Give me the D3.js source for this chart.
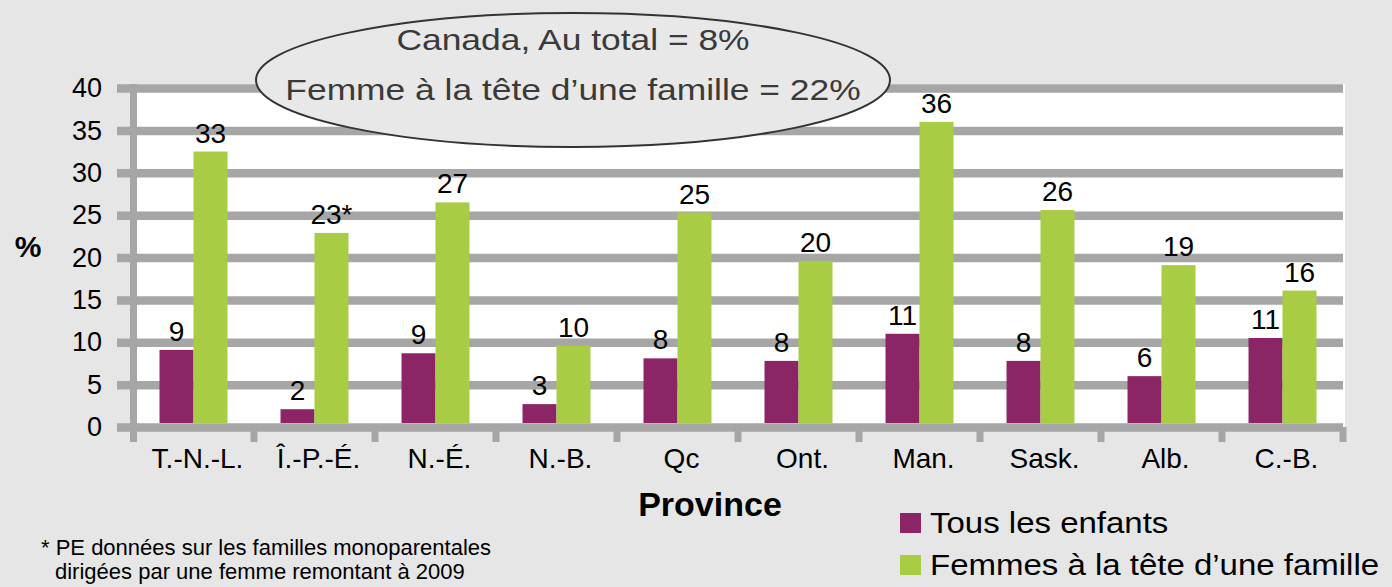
<!DOCTYPE html>
<html>
<head>
<meta charset="utf-8">
<script src="https://cdn.jsdelivr.net/npm/d3@7"></script>
<style>
  body { margin: 0; background: #e6e6e6; }
  svg { display: block; font-family: "Liberation Sans", Arial, Helvetica, sans-serif; }
</style>
</head>
<body>
<div id="container"></div>
<script>
/* CONSTANTS AND GLOBALS */
const width = 1392,
      height = 587,
      margin = {top: 88, bottom: 160, left: 137, right: 49};

// data
const provinces = ["T.-N.-L.", "Î.-P.-É.", "N.-É.", "N.-B.", "Qc", "Ont.", "Man.", "Sask.", "Alb.", "C.-B."];
const series = ["Tous les enfants", "Femmes à la tête d’une famille"];
const allChildren = [9.1, 2.1, 8.7, 2.7, 8.1, 7.8, 11.0, 7.8, 6.0, 10.5];
const femaleLed = [32.5, 22.9, 26.5, 9.6, 25.3, 19.6, 36.0, 25.6, 19.1, 16.1];
const labelsAll = ["9", "2", "9", "3", "8", "8", "11", "8", "6", "11"];
const labelsFemale = ["33", "23*", "27", "10", "25", "20", "36", "26", "19", "16"];
const yTicks = [0, 5, 10, 15, 20, 25, 30, 35, 40];
const calloutLines = ["Canada, Au total = 8%", "Femme à la tête d’une famille = 22%"];
const footnoteLines = ["* PE données sur les familles monoparentales", "dirigées par une femme remontant à 2009"];

const colors = ["#8c2566", "#a8cd45"];
const gridColor = "#a6a6a6";

const data = provinces.map((p, i) => ({
  province: p,
  values: [
    {key: series[0], value: allChildren[i], label: labelsAll[i]},
    {key: series[1], value: femaleLed[i], label: labelsFemale[i]}
  ]
}));

/* SCALES */
const xScale = d3.scaleBand()
  .domain(provinces)
  .range([margin.left - 4, width - margin.right])
  .padding(0);

const x1Scale = d3.scaleBand()
  .domain(series)
  .range([0, xScale.bandwidth()])
  .paddingInner(0)
  .paddingOuter(0.78);

const yScale = d3.scaleLinear()
  .domain([0, 40])
  .range([427, margin.top]);

const colorScale = d3.scaleOrdinal().domain(series).range(colors);

const svg = d3.select("#container")
  .append("svg")
  .attr("width", width)
  .attr("height", height);

// background + plot area
svg.append("rect").attr("width", width).attr("height", height).attr("fill", "#e6e6e6");
svg.append("rect")
  .attr("x", margin.left)
  .attr("y", yScale(40) - 4)
  .attr("width", width - margin.right + 2 - margin.left)
  .attr("height", yScale(0) - yScale(40) + 4)
  .attr("fill", "white");

// + Y AXIS with gridlines
const yAxis = d3.axisLeft(yScale)
  .tickValues(yTicks)
  .tickSizeInner(-(width - margin.right - margin.left + 20))
  .tickSizeOuter(0)
  .tickPadding(0);

const yAxisGroup = svg.append("g")
  .attr("class", "yAxis")
  .attr("transform", `translate(${margin.left - 20},0)`)
  .call(yAxis);

yAxisGroup.select(".domain").remove();
yAxisGroup.selectAll(".tick line")
  .attr("stroke", gridColor)
  .attr("stroke-width", 8.5);
yAxisGroup.selectAll(".tick text")
  .attr("x", -15)
  .attr("font-size", 27)
  .attr("fill", "black");

// vertical axis line
svg.append("line")
  .attr("x1", margin.left - 3.5).attr("x2", margin.left - 3.5)
  .attr("y1", yScale(40) - 4).attr("y2", yScale(0) + 15)
  .attr("stroke", gridColor)
  .attr("stroke-width", 7);

// + X AXIS: labels from axis, ticks on band edges
const xAxis = d3.axisBottom(xScale).tickSize(0).tickPadding(0);
const xAxisGroup = svg.append("g")
  .attr("class", "xAxis")
  .attr("transform", `translate(0,${yScale(0)})`)
  .call(xAxis);
xAxisGroup.select(".domain").remove();
xAxisGroup.selectAll(".tick text")
  .attr("y", 41)
  .attr("dy", 0)
  .attr("dx", 4)
  .attr("font-size", 28)
  .attr("fill", "black");

const edges = provinces.map(p => xScale(p)).concat([xScale.range()[1]]);
svg.append("g")
  .selectAll("line")
  .data(edges.slice(1))
  .join("line")
  .attr("x1", d => d).attr("x2", d => d)
  .attr("y1", yScale(0)).attr("y2", yScale(0) + 15)
  .attr("stroke", gridColor)
  .attr("stroke-width", 7);

// + BARS
const groups = svg.append("g")
  .selectAll("g")
  .data(data)
  .join("g")
  .attr("transform", d => `translate(${xScale(d.province)},0)`);

groups.selectAll("rect")
  .data(d => d.values)
  .join("rect")
  .attr("x", d => x1Scale(d.key))
  .attr("width", x1Scale.bandwidth())
  .attr("y", d => yScale(d.value))
  .attr("height", d => yScale(0) - 4 - yScale(d.value))
  .attr("fill", d => colorScale(d.key));

// data labels
groups.selectAll("text")
  .data(d => d.values)
  .join("text")
  .attr("x", d => x1Scale(d.key) + x1Scale.bandwidth() / 2)
  .attr("y", d => yScale(d.value) - 9)
  .attr("text-anchor", "middle")
  .attr("font-size", 28)
  .attr("fill", "black")
  .text(d => d.label);

// axis titles
svg.append("text")
  .attr("x", 28).attr("y", 257)
  .attr("text-anchor", "middle")
  .attr("font-weight", "bold")
  .attr("font-size", 30)
  .text("%");

svg.append("text")
  .attr("x", 710).attr("y", 516)
  .attr("text-anchor", "middle")
  .attr("font-weight", "bold")
  .attr("font-size", 34)
  .text("Province");

// callout ellipse
svg.append("ellipse")
  .attr("cx", 573).attr("cy", 80)
  .attr("rx", 317).attr("ry", 67)
  .attr("fill", "#e8e8e8")
  .attr("stroke", "#333")
  .attr("stroke-width", 2);

svg.append("g")
  .selectAll("text")
  .data(calloutLines)
  .join("text")
  .attr("transform", (d, i) => `translate(573,${50 + i * 50}) scale(1.18,1)`)
  .attr("text-anchor", "middle")
  .attr("font-size", 30)
  .attr("fill", "#3a3a3a")
  .text(d => d);

// legend
const legend = svg.append("g")
  .attr("transform", "translate(900,513)")
  .selectAll("g")
  .data(series)
  .join("g")
  .attr("transform", (d, i) => `translate(0,${i * 42})`);

legend.append("rect")
  .attr("width", 21).attr("height", 20)
  .attr("fill", d => colorScale(d));

legend.append("text")
  .attr("transform", "translate(30,20) scale(1.1,1)")
  .attr("font-size", 30)
  .attr("fill", "black")
  .text(d => d);

// footnote
svg.append("g")
  .selectAll("text")
  .data(footnoteLines)
  .join("text")
  .attr("x", (d, i) => i === 0 ? 41 : 55)
  .attr("y", (d, i) => 555 + i * 24)
  .attr("font-size", 22)
  .attr("fill", "black")
  .text(d => d);
</script>
</body>
</html>
